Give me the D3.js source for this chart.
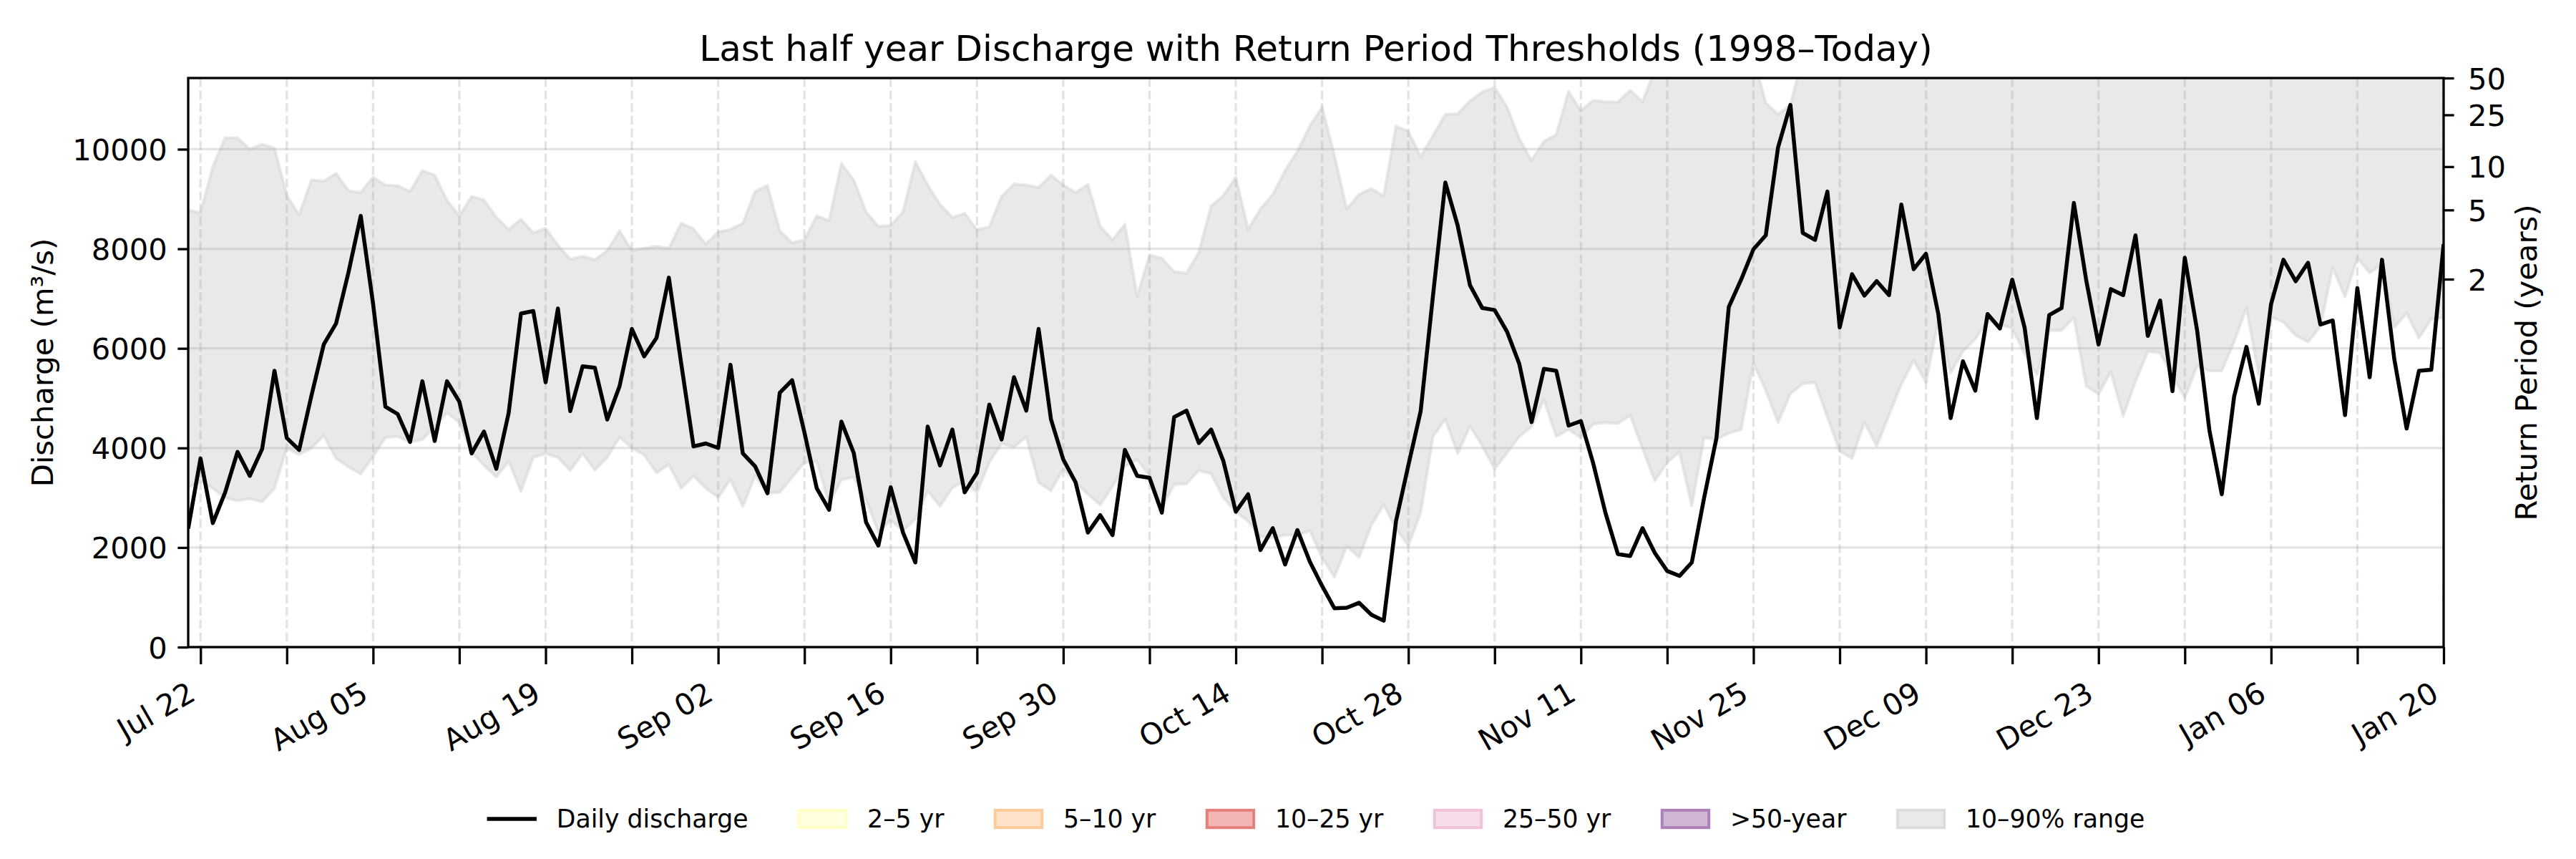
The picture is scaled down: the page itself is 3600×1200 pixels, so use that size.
<!DOCTYPE html>
<html><head><meta charset="utf-8">
<script src="https://cdn.jsdelivr.net/npm/d3@7"></script>
<style>
body{margin:0;background:#fff}
svg{display:block}
text{font-family:"DejaVu Sans",sans-serif;fill:#000}
</style>
</head><body>
<svg id="chart" width="3600" height="1200"></svg>
<script>
// ---------- DATA ----------
const startDate = "2024-07-21";
const discharge = [
  2380,3790,2490,3110,3920,3440,3980,5550,4200,3960,5050,
  6080,6500,7520,8660,6900,4830,4680,4120,5340,4140,5340,4930,3890,4330,3580,4700,6700,6750,5320,6800,4740,5640,5610,4570,5240,6390,5840,6210,7420,5700,4030,
  4090,4000,5670,3890,3630,3090,5110,5360,4310,3190,2760,4530,3900,2510,2040,3210,2300,1700,4430,3650,4370,3110,3500,4870,4170,5420,4750,6390,4580,3770,
  3310,2300,2650,2250,3960,3440,3400,2700,4620,4750,4100,4370,3730,2720,3070,1950,2390,1660,2350,1720,1230,780,790,890,650,530,2530,3650,4740,7060,9330,
  8470,7270,6810,6770,6340,5690,4520,5590,5550,4450,4540,3690,2690,1870,1830,2390,1890,1530,1430,1700,3000,4200,6830,7380,7990,8270,10040,10890,8320,8180,
  9150,6420,7490,7060,7350,7070,8890,7590,7900,6690,4600,5740,5150,6690,6400,7380,6420,4600,6670,6810,8920,7370,6080,7190,7070,8270,6250,6960,5140,7820,6360,
  4350,3070,5030,6030,4890,6890,7780,7350,7720,6480,6560,4660,7210,5420,7780,5780,4390,5550,5570,8090
];
const q90 = [
  8780,8720,9650,10230,10230,10000,10100,10020,9070,8680,9380,
  9360,9510,9170,9130,9440,9280,9270,9150,9570,9480,8970,8660,9050,8980,8630,8390,8590,8320,8410,8070,7790,7850,7780,7960,8360,7960,8010,8050,8010,8510,8400,
  8090,8340,8390,8510,9150,9270,8360,8120,8180,8660,8570,9710,9380,8740,8450,8470,8740,9750,9280,8890,8630,8710,8380,8440,9050,9300,9280,9230,9480,9280,
  9130,9290,8450,8180,8490,7040,7870,7810,7540,7510,7930,8860,9070,9440,8390,8800,9090,9570,9960,10460,10840,9880,8800,9090,9210,9060,10460,10360,9850,10270,10700,
  10710,10970,11150,11240,10850,10210,9770,10160,10290,11160,10770,10980,10950,10950,11180,10950,11600,12100,12400,12000,12300,12600,12200,11900,11840,10930,10700,10890,11850,12400,
  12600,12900,13200,12800,12500,12700,13100,13400,13000,12700,12400,12600,12900,13300,13600,13200,12800,12500,12700,13000,13400,13100,12900,12600,12400,12700,13000,13300,12900,12600,12800,
  13100,13500,13200,12800,12500,12700,13000,13400,13100,12800,12600,12900,13200,12900,12700,12500,12800,13100,12800,12600
];
const q10 = [
  3200,3340,3190,3000,2940,2980,2920,3190,4000,3870,4000,
  4250,3790,3620,3480,3830,4210,4230,4120,4170,4430,4710,4510,3920,3650,3420,3730,3130,3810,3890,3810,3550,3890,3560,3810,4220,4000,3860,3500,3670,3190,3440,
  3190,3010,3370,2830,3440,3090,3110,3410,3710,3730,2880,3360,3410,2960,2310,2550,2340,2570,3140,2830,3200,3340,3110,3710,4090,4020,4220,3310,3140,3580,
  3310,3070,2860,3230,3630,3770,3440,2800,3270,3280,3550,3480,3000,2720,2530,2220,2200,2250,2250,2340,1800,1410,2030,1800,2450,2860,2380,2040,2700,4230,4580,
  3890,4440,4040,3580,3900,4230,4430,4970,4230,4370,4210,4480,4510,4490,4660,3990,3340,3710,3920,2840,4210,4170,4300,4370,5700,5160,4510,5090,5290,5320,
  4620,3940,3790,4520,4040,4660,5280,5760,5320,6560,5510,5940,6190,6560,6480,6400,5900,5470,6360,6360,6620,5240,5090,5530,4640,5340,5940,5910,5450,5010,5650,
  5550,5550,6130,6810,5470,6630,6530,6260,6130,6440,7620,7040,7820,7520,7680,6420,6710,6210,6590,6620
];
const leftTicks = [0,2000,4000,6000,8000,10000];
const rpYears = [2,5,10,25,50];
const rpThresholds = [7390,8780,9650,10690,11430];
const firstTick = "2024-07-22";
const lastTick = "2025-01-20";
const titleText = "Last half year Discharge with Return Period Thresholds (1998–Today)";
const yLabelText = "Discharge (m³/s)";
const y2LabelText = "Return Period (years)";
const legendLabels = ["Daily discharge","2–5 yr","5–10 yr","10–25 yr","25–50 yr",">50-year","10–90% range"];

// ---------- STYLE ----------
const legendStyles = [
  {type:"line", stroke:"#000000"},
  {type:"patch", fill:"#FFFFE0", stroke:"#FFFFC6"},
  {type:"patch", fill:"#FEE3C8", stroke:"#FDCB9A"},
  {type:"patch", fill:"#F2B6B5", stroke:"#E4807E"},
  {type:"patch", fill:"#F6DDE9", stroke:"#EFC2D8"},
  {type:"patch", fill:"#D0B5D4", stroke:"#AD81B8"},
  {type:"patch", fill:"#E9E9E9", stroke:"#DCDCDC"}
];
const M = {l:263, r:3415, t:109, b:904};
const FS = 41.7, LFS = 34.7;

const svg = d3.select("#chart");
const parse = d3.utcParse("%Y-%m-%d");
const t0 = parse(startDate);
const dates = discharge.map((_, i) => d3.utcDay.offset(t0, i));
const idx = d3.range(discharge.length);

const x = d3.scaleUtc().domain([dates[0], dates[dates.length-1]]).range([M.l, M.r]);
const y = d3.scaleLinear().domain([0, d3.max(rpThresholds)]).range([M.b, M.t]);

svg.append("defs").append("clipPath").attr("id","clip")
  .append("rect").attr("x",M.l).attr("y",M.t).attr("width",M.r-M.l).attr("height",M.b-M.t);

// band
svg.append("path")
  .attr("clip-path","url(#clip)")
  .attr("d", d3.area().x(i => x(dates[i])).y0(i => y(q10[i])).y1(i => y(q90[i]))(idx))
  .attr("fill","rgba(211,211,211,0.5)")
  .attr("stroke","rgba(211,211,211,0.5)")
  .attr("stroke-width",4.17)
  .attr("stroke-linejoin","round");

// grid
const weekly = d3.utcDay.range(parse(firstTick), d3.utcDay.offset(parse(lastTick),1), 7);
const grid = svg.append("g").attr("clip-path","url(#clip)");
grid.selectAll("line.h").data(leftTicks).join("line")
  .attr("x1",M.l).attr("x2",M.r).attr("y1",d=>y(d)).attr("y2",d=>y(d))
  .attr("stroke","#b0b0b0").attr("stroke-opacity",0.35).attr("stroke-width",3.3);
grid.selectAll("line.v").data(weekly).join("line")
  .attr("y1",M.t).attr("y2",M.b).attr("x1",d=>x(d)).attr("x2",d=>x(d))
  .attr("stroke","#b0b0b0").attr("stroke-opacity",0.35).attr("stroke-width",3.3)
  .attr("stroke-dasharray","12.3,5.3");

// line
svg.append("path")
  .attr("clip-path","url(#clip)")
  .attr("d", d3.line().x(i => x(dates[i])).y(i => y(discharge[i]))(idx))
  .attr("fill","none").attr("stroke","#000").attr("stroke-width",5.5)
  .attr("stroke-linejoin","round");

// axes
const fmt = d3.utcFormat("%b %d");
const gx = svg.append("g").attr("transform",`translate(0,${M.b})`)
  .call(d3.axisBottom(x).tickValues(weekly).tickSize(24).tickFormat((d,i)=> i%2===0 ? fmt(d) : ""));
gx.select(".domain").remove();
gx.selectAll(".tick line").attr("stroke","#000").attr("stroke-width",3.3);
gx.selectAll(".tick text")
  .attr("font-size",FS).attr("text-anchor","end")
  .attr("transform","translate(0,81) rotate(-30)")
  .attr("x",0).attr("y",-9.8).attr("dy",0);

const gy = svg.append("g").attr("transform",`translate(${M.l},0)`)
  .call(d3.axisLeft(y).tickValues(leftTicks).tickSize(14.6).tickPadding(14.6).tickFormat(d3.format("d")));
gy.select(".domain").remove();
gy.selectAll(".tick line").attr("stroke","#000").attr("stroke-width",3.3);
gy.selectAll(".tick text").attr("font-size",FS).attr("dy","0.36em");

const gy2 = svg.append("g").attr("transform",`translate(${M.r},0)`)
  .call(d3.axisRight(y).tickValues(rpThresholds).tickSize(14.6).tickPadding(19.4)
    .tickFormat((d,i)=> String(rpYears[i])));
gy2.select(".domain").remove();
gy2.selectAll(".tick line").attr("stroke","#000").attr("stroke-width",3.3);
gy2.selectAll(".tick text").attr("font-size",FS).attr("dy","0.36em");

svg.selectAll(".tick text").attr("fill","#000").attr("font-family","DejaVu Sans");

// spines
svg.append("rect").attr("x",M.l).attr("y",M.t).attr("width",M.r-M.l).attr("height",M.b-M.t)
  .attr("fill","none").attr("stroke","#000").attr("stroke-width",3.3);

// titles
svg.append("text").attr("x",(M.l+M.r)/2).attr("y",85).attr("text-anchor","middle")
  .attr("font-size",50).text(titleText);
svg.append("text").attr("transform",`translate(74,${(M.t+M.b)/2}) rotate(-90)`)
  .attr("text-anchor","middle").attr("font-size",FS).text(yLabelText);
svg.append("text").attr("transform",`translate(3545,${(M.t+M.b)/2}) rotate(-90)`)
  .attr("text-anchor","middle").attr("font-size",FS).text(y2LabelText);

// legend
const lg = svg.append("g");
const em = LFS, handleW = 2*em, pad = 0.8*em, colSp = 2*em, cy = 1144;
let cx = 0;
legendLabels.forEach((lab, i) => {
  const g = lg.append("g");
  const st = legendStyles[i];
  if (st.type === "line") {
    g.append("line").attr("x1",0).attr("x2",handleW).attr("y1",cy).attr("y2",cy)
      .attr("stroke",st.stroke).attr("stroke-width",5.5);
  } else {
    g.append("rect").attr("x",2).attr("y",cy-0.35*em).attr("width",handleW-4).attr("height",0.7*em)
      .attr("fill",st.fill).attr("stroke",st.stroke).attr("stroke-width",4);
  }
  const t = g.append("text").attr("x",handleW+pad).attr("y",cy+11.5)
    .attr("font-size",LFS).text(lab);
  const w = handleW + pad + t.node().getComputedTextLength();
  g.attr("transform",`translate(${cx},0)`);
  cx += w + colSp;
});
const totalW = cx - colSp;
lg.attr("transform",`translate(${(M.l+M.r)/2 - totalW/2},0)`);
</script>
</body></html>
